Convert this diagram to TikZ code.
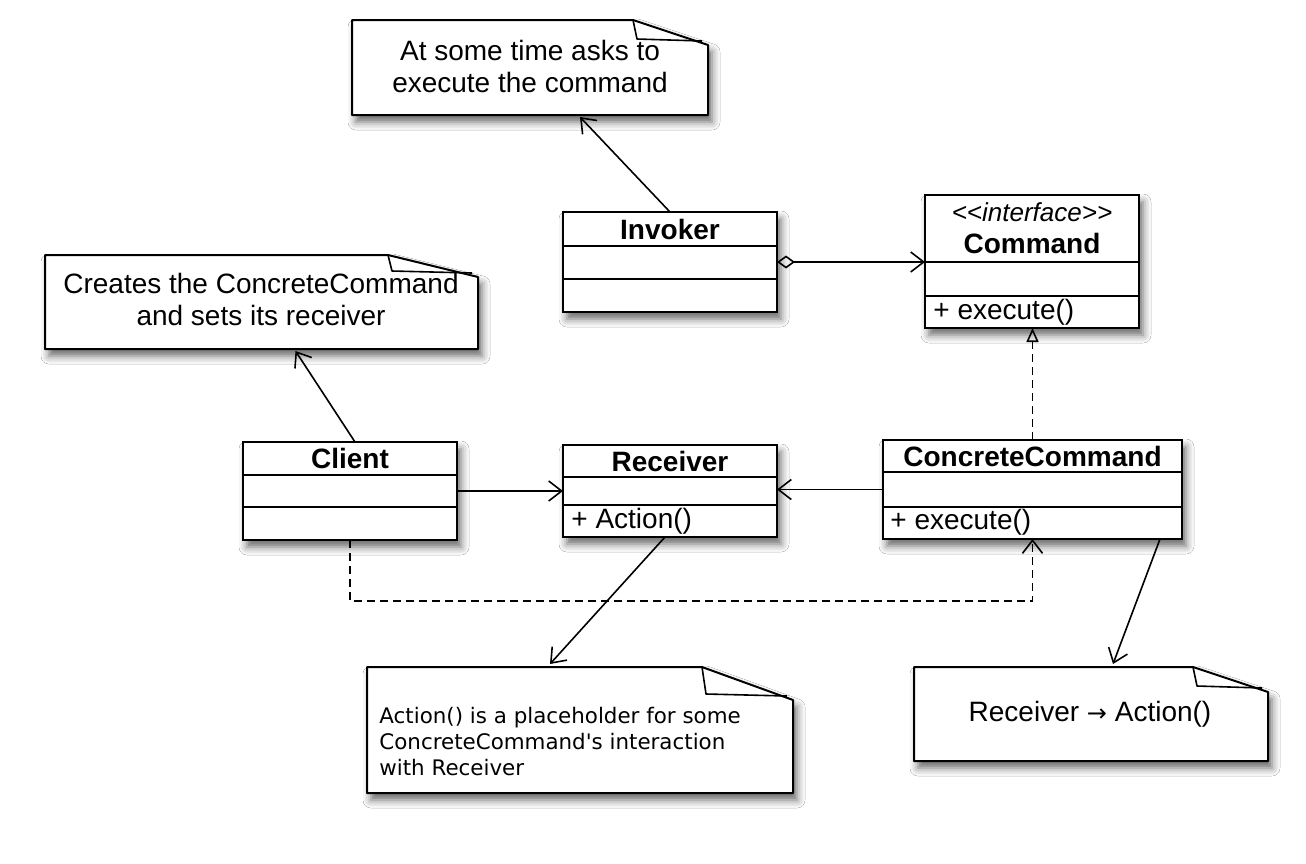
\documentclass[tikz,border=0pt]{standalone}
\usepackage{fontspec}
\setmainfont{Liberation Sans}
\newfontfamily\dejavu{DejaVu Sans}
\usetikzlibrary{arrows.meta,shadows.blur,calc}
\tikzset{
  shad/.style={blur shadow={shadow xshift=2pt,shadow yshift=-3.5pt,shadow blur radius=4pt,shadow opacity=60}},
  cls/.style={draw,fill=white,line width=1pt,inner sep=0pt,outer sep=0pt,shad},
  divider/.style={line width=1pt},
  clsname/.style={font=\fontsize{14}{16}\selectfont\bfseries,inner sep=0pt},
  oper/.style={font=\fontsize{14}{16}\selectfont,inner sep=0pt,anchor=west},
  notebox/.style={inner sep=0pt,outer sep=0pt},
  noteline/.style={draw,fill=white,line width=1pt,line join=round,shad},
  foldline/.style={line width=0.8pt,line join=round},
  notetext/.style={font=\fontsize{14}{16}\selectfont,align=center,inner sep=0pt},
  conn/.style={line width=0.8pt},
  openarrow/.style={conn,-{Straight Barb[length=6.5pt,width=10pt,line width=0.8pt]}},
  dashedline/.style={conn,dash pattern=on 4pt off 2.5pt},
}
\newcommand\drawnote[3]{%
  \path[noteline] (#1.north west) -- ([xshift=-#2]#1.north east) -- ([yshift=-#3]#1.north east) -- (#1.south east) -- (#1.south west) -- cycle;
  \draw[foldline] ([xshift=-#2]#1.north east) -- ([xshift=-#2+2pt,yshift=-#3+3pt]#1.north east) -- ([xshift=-3pt,yshift=-#3+2pt]#1.north east);
}
\begin{document}
\begin{tikzpicture}[x=0.5pt,y=-0.5pt]
\useasboundingbox[fill=white] (0,0) rectangle (1306,863);

% ---------- notes ----------
\node[notebox,minimum width=178pt,minimum height=47.5pt] (n1) at (530,67.5) {};
\drawnote{n1}{37.5pt}{12.5pt}
\node[notetext] (n1t) at (530,66) {At some time asks to\\execute the command};

\node[notebox,minimum width=216.5pt,minimum height=47pt] (n2) at (261.5,302) {};
\drawnote{n2}{45pt}{11pt}
\node[notetext] (n2t) at (261,299) {Creates the ConcreteCommand\\and sets its receiver};

\node[notebox,minimum width=213pt,minimum height=63pt] (n3) at (580,730) {};
\drawnote{n3}{45.5pt}{16.5pt}
\node[font=\dejavu\fontsize{10.7}{12.8}\selectfont,align=left,inner sep=0pt,anchor=west] (n3t) at (379,741.5) {Action() is a placeholder for some\\ConcreteCommand's interaction\\with Receiver};

\node[notebox,minimum width=177pt,minimum height=47pt] (n4) at (1091,714) {};
\drawnote{n4}{37.5pt}{12.5pt}
\node[notetext] (n4t) at (1090,714) {Receiver {\dejavu\fontsize{12}{16}\selectfont →} Action()};

% ---------- classes ----------
% Invoker
\node[cls,minimum width=107pt,minimum height=50pt] (inv) at (670,262) {};
\draw[divider] (inv.west |- 0,246) -- (inv.east |- 0,246);
\draw[divider] (inv.west |- 0,279) -- (inv.east |- 0,279);
\node[clsname] (invn) at (670,229) {Invoker};

% Command
\node[cls,minimum width=107pt,minimum height=66.5pt] (cmd) at (1032,261.5) {};
\draw[divider] (cmd.west |- 0,262) -- (cmd.east |- 0,262);
\draw[divider] (cmd.west |- 0,296) -- (cmd.east |- 0,296);
\node[font=\fontsize{13}{15}\selectfont\itshape,inner sep=0pt] (cmds) at (1032,212) {<{}<interface>{}>};
\node[clsname] (cmdn) at (1032,243) {Command};
\node[oper] (cmdo) at (933,312) {+ execute()};

% Client
\node[cls,minimum width=107pt,minimum height=49pt] (cl) at (350,491) {};
\draw[divider] (cl.west |- 0,475) -- (cl.east |- 0,475);
\draw[divider] (cl.west |- 0,507) -- (cl.east |- 0,507);
\node[clsname] (cln) at (350,458) {Client};

% Receiver
\node[cls,minimum width=107pt,minimum height=46pt] (rcv) at (670,491) {};
\draw[divider] (rcv.west |- 0,477) -- (rcv.east |- 0,477);
\draw[divider] (rcv.west |- 0,505) -- (rcv.east |- 0,505);
\node[clsname] (rcvn) at (670,461) {Receiver};
\node[oper] (rcvo) at (571,521) {+ Action()};

% ConcreteCommand
\node[cls,minimum width=149.5pt,minimum height=49.5pt] (cc) at (1032.5,489.5) {};
\draw[divider] (cc.west |- 0,472) -- (cc.east |- 0,472);
\draw[divider] (cc.west |- 0,507) -- (cc.east |- 0,507);
\node[clsname] (ccn) at (1032.5,456) {ConcreteCommand};
\node[oper] (cco) at (890,522) {+ execute()};

% ---------- connectors ----------
\draw[openarrow] (inv.north) -- ([xshift=25pt,yshift=-1pt]n1.south);
\draw[openarrow] ([xshift=2.5pt]cl.north) -- ([xshift=17pt,yshift=-1pt]n2.south);
\draw[conn,{Diamond[open,length=9pt,width=6.5pt,line width=0.8pt]}-{Straight Barb[length=6.5pt,width=10pt,line width=0.8pt]}] (inv.east) -- (inv.east -| cmd.west);
\draw[openarrow] (cl.east) -- (rcv.west);
\draw[openarrow] (cc.west) -- (cc.west -| rcv.east);
\draw[dashedline,-{Triangle[open,length=7pt,width=6pt,line width=0.8pt]}] (cc.north) -- (cc.north |- cmd.south);
\draw[dashedline,-{Straight Barb[length=6.5pt,width=10pt,line width=0.8pt]}] (cl.south) -- ++(0,61) -| (cc.south);
\draw[openarrow] ([xshift=-2.5pt]rcv.south) -- ([xshift=-15pt,yshift=1.5pt]n3.north);
\draw[openarrow] ([xshift=63.75pt]cc.south) -- ([xshift=11pt,yshift=1.5pt]n4.north);
\end{tikzpicture}
\end{document}
